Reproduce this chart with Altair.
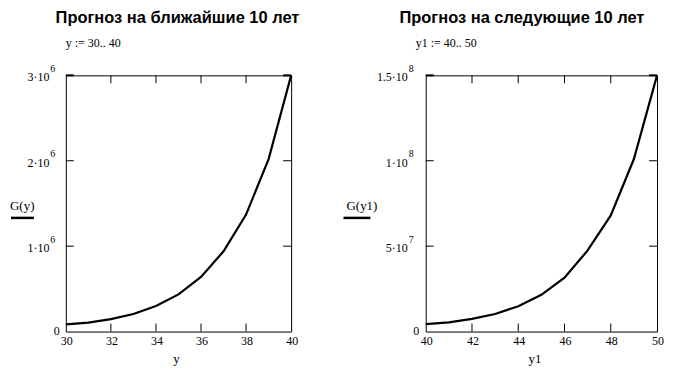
import altair as alt
import pandas as pd

# ---- data ----
years_a = [30, 31, 32, 33, 34, 35, 36, 37, 38, 39, 40]
g_a = [0.085e6, 0.105e6, 0.145e6, 0.205e6, 0.30e6, 0.435e6, 0.64e6, 0.94e6, 1.37e6, 2.02e6, 3.0e6]
years_b = [40, 41, 42, 43, 44, 45, 46, 47, 48, 49, 50]
g_b = [4.4e6, 5.4e6, 7.4e6, 10.3e6, 14.8e6, 21.5e6, 31.5e6, 47.5e6, 68e6, 101e6, 150e6]

xticks_a = [32, 34, 36, 38]
xlabels_a = [30, 32, 34, 36, 38, 40]
yticks_a = [1e6, 2e6]
ylabel_vals_a = [1e6, 2e6, 3e6]
ylabel_mant_a = ["1·10", "2·10", "3·10"]
ylabel_exp_a = ["6", "6", "6"]

xticks_b = [42, 44, 46, 48]
xlabels_b = [40, 42, 44, 46, 48, 50]
yticks_b = [5e7, 1e8]
ylabel_vals_b = [5e7, 1e8, 1.5e8]
ylabel_mant_b = ["5·10", "1·10", "1.5·10"]
ylabel_exp_b = ["7", "8", "8"]

title_a = "Прогноз на ближайшие 10 лет"
title_b = "Прогноз на следующие 10 лет"
sub_a = "y := 30.. 40"
sub_b = "y1 := 40.. 50"
gname_a = "G(y)"
gname_b = "G(y1)"
xtitle_a = "y"
xtitle_b = "y1"

SERIF = "Liberation Serif"
SANS = "Liberation Sans"
H = 257
TL = 8  # tick length


def one(text=""):
    return pd.DataFrame({"t": [text]})


def panel(xs, ys, W, xticks, xlabels, yticks, yvals, mant, exps, title, title_x,
          sub, sub_x, gname, gtext_x, gline_x1, gline_x2, xtitle, xtitle_x,
          mant_x, zero_x, anchor=False):
    xdom = [xs[0], xs[-1]]
    ydom = [0, ys[-1]]

    def X(f):
        return alt.X(f, type="quantitative",
                     scale=alt.Scale(domain=xdom, nice=False, zero=False), axis=None)

    def Y(f):
        return alt.Y(f, type="quantitative",
                     scale=alt.Scale(domain=ydom, nice=False, zero=True), axis=None)

    curve = alt.Chart(pd.DataFrame({"x": xs, "g": ys})).mark_line(
        color="black", strokeWidth=2.2).encode(x=X("x"), y=Y("g"))

    dxt = pd.DataFrame({"v": xticks})
    bt = alt.Chart(dxt).mark_rule(color="black", strokeWidth=1).encode(
        x=X("v"), y=alt.value(H), y2=alt.value(H - TL))
    tt = alt.Chart(dxt).mark_rule(color="black", strokeWidth=1).encode(
        x=X("v"), y=alt.value(0), y2=alt.value(TL))

    dyt = pd.DataFrame({"v": yticks})
    lt = alt.Chart(dyt).mark_rule(color="black", strokeWidth=1).encode(
        y=Y("v"), x=alt.value(0), x2=alt.value(TL))
    rt = alt.Chart(dyt).mark_rule(color="black", strokeWidth=1).encode(
        y=Y("v"), x=alt.value(W), x2=alt.value(W - TL))

    dtop = pd.DataFrame({"v": [ys[-1]]})
    lim_l = alt.Chart(dtop).mark_rule(color="black", strokeWidth=2).encode(
        y=Y("v"), x=alt.value(0), x2=alt.value(TL))
    lim_r = alt.Chart(dtop).mark_rule(color="black", strokeWidth=2).encode(
        y=Y("v"), x=alt.value(W - TL), x2=alt.value(W))

    xl = alt.Chart(pd.DataFrame({"v": xlabels, "s": [str(v) for v in xlabels]})).mark_text(
        font=SERIF, fontSize=12, baseline="alphabetic", align="center", dx=1, color="black"
    ).encode(x=X("v"), y=alt.value(H + 13), text="s:N")

    dyl = pd.DataFrame({"v": yvals, "m": mant, "e": exps})
    ym = alt.Chart(dyl).mark_text(
        font=SERIF, fontSize=12, baseline="alphabetic", align="right", dy=6, color="black"
    ).encode(x=alt.value(mant_x), y=Y("v"), text="m:N")
    ye = alt.Chart(dyl).mark_text(
        font=SERIF, fontSize=10, baseline="alphabetic", align="left", dy=-3.5, color="black"
    ).encode(x=alt.value(mant_x + 1), y=Y("v"), text="e:N")
    yz = alt.Chart(pd.DataFrame({"v": [0], "s": ["0"]})).mark_text(
        font=SERIF, fontSize=12, baseline="alphabetic", align="right", dy=3, color="black"
    ).encode(x=alt.value(zero_x), y=Y("v"), text="s:N")

    ttl = alt.Chart(one(title)).mark_text(
        font=SANS, fontSize=16.5, fontWeight="bold", align="center", baseline="alphabetic",
        color="black").encode(x=alt.value(title_x), y=alt.value(-53), text="t:N")
    st = alt.Chart(one(sub)).mark_text(
        font=SERIF, fontSize=12, align="left", baseline="alphabetic", color="black"
    ).encode(x=alt.value(sub_x), y=alt.value(-28), text="t:N")
    gt = alt.Chart(one(gname)).mark_text(
        font=SERIF, fontSize=13, align="left", baseline="alphabetic", color="black"
    ).encode(x=alt.value(gtext_x), y=alt.value(135), text="t:N")
    gl = alt.Chart(one()).mark_rule(color="black", strokeWidth=2.5).encode(
        x=alt.value(gline_x1), x2=alt.value(gline_x2), y=alt.value(143), y2=alt.value(143))
    xt = alt.Chart(one(xtitle)).mark_text(
        font=SERIF, fontSize=13, align="center", baseline="alphabetic", color="black"
    ).encode(x=alt.value(xtitle_x), y=alt.value(H + 32), text="t:N")

    layers = [curve, bt, tt, lt, rt, lim_l, lim_r, xl, ym, ye, yz, ttl, st, gt, gl, xt]
    if anchor:
        anc = alt.Chart(one()).mark_rule(color="white", strokeOpacity=0, strokeWidth=0).encode(
            x=alt.value(-57), x2=alt.value(-56), y=alt.value(-65), y2=alt.value(-65))
        layers.append(anc)
    return alt.layer(*layers).properties(width=W, height=H)


left = panel(years_a, g_a, 226, xticks_a, xlabels_a, yticks_a, ylabel_vals_a,
             ylabel_mant_a, ylabel_exp_a, title_a, 112, sub_a, 0, gname_a,
             -56, -55, -32, xtitle_a, 111, -16.5, -6, anchor=True)
right = panel(years_b, g_b, 232, xticks_b, xlabels_b, yticks_b, ylabel_vals_b,
              ylabel_mant_b, ylabel_exp_b, title_b, 96.5, sub_b, -10, gname_b,
              -79.5, -82.5, -55.5, xtitle_b, 109.5, -18, -6.5)

chart = alt.hconcat(left, right, spacing=135, bounds="flush").properties(
    padding=0, background="white"
).configure_view(stroke="black", strokeWidth=1)

chart.save("out.html", embed_options={"renderer": "svg", "actions": False})
